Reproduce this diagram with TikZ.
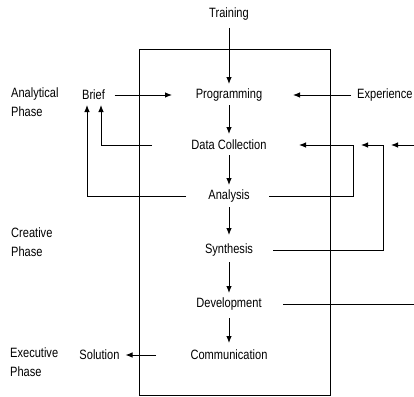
\documentclass[tikz,border=0pt]{standalone}
\usepackage{fontspec}
\setmainfont{Liberation Sans}[FakeStretch=0.82]
\usetikzlibrary{arrows.meta,calc}
\begin{document}
\begin{tikzpicture}[x=1pt,y=-1pt,
  lbl/.style={inner sep=0pt,font=\fontsize{13.5}{15}\selectfont},
  phase/.style={inner sep=0pt,align=left,font=\fontsize{13.5}{19}\selectfont},
  conn/.style={line width=0.9pt},
  arr/.style={conn,-{Latex[length=7pt,width=5.5pt]}}]
\useasboundingbox (0,0) rectangle (414,396);
\draw[conn] (139,49) rectangle (330,395);
\node[lbl] (training) at (229,14) {Training};
\node[lbl] (prog) at (229,95) {Programming};
\node[lbl,anchor=west] (exp) at (357,95) {Experience};
\node[lbl] (brief) at (93.5,95) {Brief};
\node[lbl] (dc) at (229,145) {Data Collection};
\node[lbl] (ana) at (229,196) {Analysis};
\node[lbl] (syn) at (229,250) {Synthesis};
\node[lbl] (dev) at (229,304) {Development};
\node[lbl] (comm) at (229,355) {Communication};
\node[lbl] (sol) at (99.5,355) {Solution};
\node[phase,anchor=north west] (analph) at (11,88) {Analytical\\Phase};
\node[phase,anchor=north west] (creph) at (11,228) {Creative\\Phase};
\node[phase,anchor=north west] (exeph) at (10,348) {Executive\\Phase};
\coordinate (rin) at (414,145);
\coordinate (rout) at (414,304);
% vertical chain
\draw[arr] ($(training)+(0,14)$) -- ($(prog)+(0,-11)$);
\draw[arr] ($(prog)+(0,10)$) -- ($(dc)+(0,-11)$);
\draw[arr] ($(dc)+(0,10)$) -- ($(ana)+(0,-11)$);
\draw[arr] ($(ana)+(0,11)$) -- ($(syn)+(0,-15)$);
\draw[arr] ($(syn)+(0,12)$) -- ($(dev)+(0,-11)$);
\draw[arr] ($(dev)+(0,14)$) -- ($(comm)+(0,-12)$);
% horizontal inputs
\draw[arr] ($(brief)+(21,0)$) -- ($(prog)+(-57,0)$);
\draw[arr] ($(exp.west)+(-6,0)$) -- ($(prog)+(64,0)$);
\draw[arr] ($(comm)+(-73,0)$) -- ($(sol)+(26,0)$);
% feedback to brief
\draw[arr] ($(dc)+(-77,0)$) -| ($(brief)+(7.5,10)$);
\draw[arr] ($(ana)+(-43,0)$) -| ($(brief)+(-6.5,10)$);
% feedback to data collection
\draw[arr] ($(ana)+(40,0)$) -| ($(dc)+(124,0)$) -- ($(dc)+(70,0)$);
\draw[arr] ($(syn)+(44,0)$) -| ($(dc)+(154,0)$) -- ($(dc)+(132,0)$);
\draw[arr] (rin) -- ($(dc)+(162,0)$);
\draw[conn] ($(dev)+(54,0)$) -- (rout);
\end{tikzpicture}
\end{document}
